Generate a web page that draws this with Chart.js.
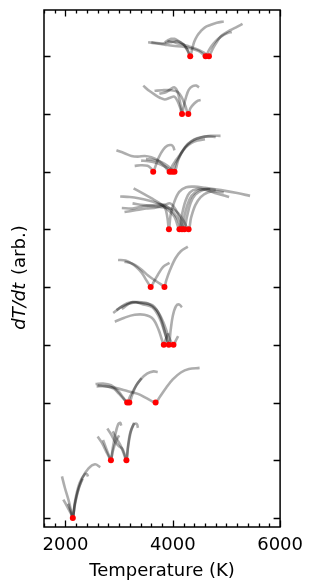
<!DOCTYPE html>
<html>
<head>
<meta charset="utf-8">
<script src="https://cdn.jsdelivr.net/npm/chart.js@4.4.0/dist/chart.umd.min.js"></script>
<style>
  html, body { margin: 0; padding: 0; background: #fff; }
  canvas { display: block; }
</style>
</head>
<body>
<canvas id="dtChart" width="311" height="584"></canvas>
<script>
// --- data ---
const tempTicks = [2000, 4000, 6000];
const levelTicks = [0, 1, 2, 3, 4, 5, 6, 7, 8];

// one trace per run: temperature (K) and dT/dt (arb., stacked by level)
const curveTemps = [
  // level 0
  [1935, 1990, 2060, 2110, 2137, 2170, 2230, 2320, 2430, 2550, 2650],
  [1960, 2030, 2100, 2137, 2180, 2260, 2350, 2400, 2420],
  [2050, 2110, 2137, 2170, 2240, 2320],
  // level 1
  [2600, 2680, 2760, 2820, 2847, 2880, 2930, 2980, 3020, 3040],
  [2780, 2850, 2920, 2990, 3060, 3110, 3136, 3160, 3200, 3270, 3330, 3350],
  [2700, 2760, 2820, 2847, 2880, 2950, 3000],
  [2880, 2950, 3030, 3100, 3136, 3170, 3220, 3280],
  // level 2
  [2560, 2700, 2850, 2980, 3080, 3150, 3200, 3290, 3400, 3520, 3640, 3720],
  [2580, 2750, 2950, 3150, 3350, 3500, 3600, 3680, 3760, 3880, 4000, 4150, 4300, 4500],
  [2600, 2780, 2900, 3000, 3100, 3190, 3240, 3320, 3420],
  // level 3
  [2920, 3100, 3290, 3470, 3630, 3740, 3800, 3833, 3870, 3920],
  [2890, 3050, 3260, 3450, 3630, 3760, 3860, 3926, 3960, 4000, 4060, 4120, 4170],
  [2950, 3150, 3350, 3550, 3700, 3820, 3920, 4013, 4060, 4100],
  [3050, 3250, 3450, 3620, 3760, 3870, 3926],
  // level 4
  [2980, 3120, 3230, 3330, 3420, 3500, 3560, 3588, 3640, 3720, 3820, 3940],
  [3100, 3200, 3300, 3420, 3540, 3660, 3760, 3820, 3845, 3880, 3950, 4050, 4150, 4280],
  // level 5
  [3270, 3450, 3600, 3760, 3910, 4030, 4124, 4170, 4240, 4320, 4450, 4620, 4820, 5050],
  [3020, 3200, 3360, 3550, 3720, 3850, 3900, 3928, 3960, 4030, 4120, 4250, 4400, 4600, 4900, 5200, 5440],
  [3050, 3250, 3450, 3650, 3820, 3950, 4080, 4172, 4210, 4270, 4350, 4480, 4650, 4800],
  [3100, 3300, 3500, 3700, 3850, 3950, 4050, 4150, 4216, 4260, 4330, 4420, 4560, 4700],
  [3250, 3450, 3650, 3850, 4000, 4100, 4200, 4295, 4340, 4420, 4520, 4650, 4800, 4950],
  // level 6
  [2950, 3100, 3230, 3350, 3480, 3600, 3720, 3840, 3941, 3990, 4060, 4124, 4200, 4280, 4400, 4520, 4650, 4800],
  [3290, 3400, 3530, 3600, 3635, 3680, 3740, 3820, 3900, 3970, 4010, 4030],
  [3410, 3550, 3700, 3820, 3920, 3988, 4060, 4150, 4240, 4350, 4460, 4600],
  [3500, 3650, 3800, 3930, 4032, 4100, 4180, 4280, 4400, 4550, 4700, 4890],
  // level 7
  [3450, 3560, 3670, 3760, 3850, 3950, 4030, 4090, 4140, 4172, 4200, 4250, 4300, 4370, 4440, 4490],
  [3660, 3800, 3970, 4090, 4160, 4230, 4289, 4330, 4400, 4470, 4520],
  [3750, 3880, 3960, 4032, 4090, 4140, 4172],
  // level 8
  [3540, 3700, 3850, 4000, 4220, 4460, 4540, 4612, 4660, 4720, 4800, 4900, 5020, 5100],
  [3850, 3920, 3970, 4030, 4093, 4160, 4216, 4280, 4325, 4360, 4400, 4460, 4520, 4600, 4700, 4820, 4950],
  [3900, 4000, 4100, 4200, 4300, 4400, 4500, 4580, 4674, 4720, 4770, 4830, 4890, 4980, 5070, 5180, 5300],
  [3600, 3800, 3950, 4093, 4200, 4260, 4325]
];

const curveRates = [
  [0.72, 0.52, 0.30, 0.10, 0.00, 0.20, 0.45, 0.70, 0.86, 0.93, 0.88],
  [0.32, 0.20, 0.08, 0.00, 0.30, 0.60, 0.75, 0.76, 0.72],
  [0.25, 0.08, 0.00, 0.22, 0.50, 0.68],
  [1.41, 1.30, 1.15, 1.04, 1.00, 1.20, 1.45, 1.62, 1.65, 1.60],
  [1.55, 1.45, 1.33, 1.25, 1.20, 1.08, 1.00, 1.20, 1.45, 1.62, 1.63, 1.56],
  [1.35, 1.20, 1.06, 1.00, 1.15, 1.35, 1.43],
  [1.50, 1.38, 1.25, 1.08, 1.00, 1.25, 1.50, 1.65],
  [2.32, 2.33, 2.30, 2.20, 2.08, 2.00, 2.10, 2.25, 2.40, 2.50, 2.54, 2.53],
  [2.28, 2.28, 2.25, 2.20, 2.15, 2.08, 2.03, 2.00, 2.10, 2.26, 2.40, 2.52, 2.58, 2.60],
  [2.30, 2.28, 2.24, 2.15, 2.05, 2.00, 2.12, 2.30, 2.42],
  [3.40, 3.47, 3.52, 3.52, 3.45, 3.25, 3.08, 3.00, 3.10, 3.20],
  [3.55, 3.66, 3.73, 3.72, 3.68, 3.50, 3.20, 3.00, 3.25, 3.50, 3.67, 3.70, 3.65],
  [3.60, 3.72, 3.74, 3.71, 3.60, 3.40, 3.15, 3.00, 3.08, 3.15],
  [3.62, 3.74, 3.70, 3.65, 3.45, 3.15, 3.00],
  [4.47, 4.46, 4.41, 4.34, 4.25, 4.13, 4.04, 4.00, 4.08, 4.21, 4.35, 4.42],
  [4.44, 4.42, 4.38, 4.30, 4.20, 4.12, 4.06, 4.02, 4.00, 4.12, 4.30, 4.50, 4.62, 4.70],
  [5.71, 5.62, 5.54, 5.45, 5.34, 5.22, 5.00, 5.25, 5.50, 5.64, 5.70, 5.68, 5.62, 5.56],
  [5.57, 5.56, 5.54, 5.50, 5.45, 5.38, 5.20, 5.00, 5.25, 5.48, 5.65, 5.73, 5.74, 5.72, 5.68, 5.63, 5.58],
  [5.37, 5.36, 5.40, 5.42, 5.43, 5.35, 5.20, 5.00, 5.20, 5.42, 5.58, 5.68, 5.70, 5.68],
  [5.30, 5.33, 5.36, 5.38, 5.42, 5.45, 5.35, 5.15, 5.00, 5.20, 5.45, 5.60, 5.68, 5.70],
  [5.45, 5.42, 5.40, 5.38, 5.35, 5.28, 5.15, 5.00, 5.20, 5.42, 5.56, 5.64, 5.66, 5.64],
  [6.37, 6.32, 6.27, 6.26, 6.27, 6.25, 6.20, 6.10, 6.00, 6.10, 6.20, 6.28, 6.38, 6.47, 6.55, 6.59, 6.61, 6.60],
  [6.10, 6.11, 6.10, 6.05, 6.00, 6.10, 6.25, 6.38, 6.45, 6.46, 6.43, 6.37],
  [6.19, 6.18, 6.15, 6.10, 6.05, 6.00, 6.15, 6.30, 6.42, 6.50, 6.54, 6.56],
  [6.22, 6.20, 6.16, 6.08, 6.00, 6.20, 6.36, 6.48, 6.56, 6.60, 6.62, 6.62],
  [7.49, 7.40, 7.33, 7.28, 7.25, 7.28, 7.30, 7.22, 7.10, 7.00, 7.12, 7.30, 7.42, 7.48, 7.49, 7.46],
  [7.40, 7.41, 7.41, 7.38, 7.30, 7.15, 7.00, 7.10, 7.18, 7.23, 7.24],
  [7.35, 7.38, 7.43, 7.46, 7.38, 7.18, 7.00],
  [8.24, 8.22, 8.20, 8.18, 8.16, 8.10, 8.05, 8.00, 8.08, 8.17, 8.26, 8.34, 8.40, 8.42],
  [8.24, 8.28, 8.30, 8.30, 8.27, 8.23, 8.19, 8.10, 8.00, 8.12, 8.25, 8.36, 8.43, 8.50, 8.54, 8.58, 8.60],
  [8.26, 8.25, 8.22, 8.20, 8.17, 8.14, 8.10, 8.06, 8.00, 8.08, 8.17, 8.26, 8.34, 8.40, 8.45, 8.50, 8.56],
  [8.24, 8.22, 8.24, 8.26, 8.20, 8.12, 8.00]
];

// minima of dT/dt (red markers)
const minTemps  = [2137, 2847, 3136, 3150, 3190, 3680, 3833, 3926, 4013, 3588, 3845,
                   3928, 4124, 4172, 4216, 4295, 3635, 3941, 3988, 4032, 4172, 4289, 4325, 4612, 4674];
const minLevels = [0, 1, 1, 2, 2, 2, 3, 3, 3, 4, 4,
                   5, 5, 5, 5, 5, 6, 6, 6, 6, 7, 7, 8, 8, 8];

// --- datasets ---
const datasets = [{
  data: minTemps.map((t, i) => ({ x: t, y: minLevels[i] })),
  showLine: false,
  pointRadius: 3,
  pointBackgroundColor: '#ff0000',
  pointBorderWidth: 0,
  order: 0
}];
curveTemps.forEach((temps, k) => {
  datasets.push({
    data: temps.map((t, i) => ({ x: t, y: curveRates[k][i] })),
    showLine: true,
    borderColor: 'rgba(0,0,0,0.32)',
    borderWidth: 2.6,
    pointRadius: 0,
    tension: 0.35,
    order: 1
  });
});

const FONT = '"DejaVu Sans", sans-serif';

// inward matplotlib-style ticks + frame + y label
const frameTicks = {
  id: 'frameTicks',
  afterDatasetsDraw(chart) {
    const { ctx, chartArea: a, scales: { x, y } } = chart;
    ctx.save();
    ctx.strokeStyle = '#000';
    ctx.lineWidth = 1.3;
    ctx.beginPath();
    for (let t = 1600; t <= 6000; t += 200) {
      const px = Math.round(x.getPixelForValue(t)) + 0.5;
      const len = tempTicks.includes(t) ? 6.5 : 3.6;
      ctx.moveTo(px, a.bottom); ctx.lineTo(px, a.bottom - len);
      ctx.moveTo(px, a.top); ctx.lineTo(px, a.top + len);
    }
    levelTicks.forEach(v => {
      const py = Math.round(y.getPixelForValue(v)) + 0.5;
      ctx.moveTo(a.left, py); ctx.lineTo(a.left + 6.5, py);
      ctx.moveTo(a.right, py); ctx.lineTo(a.right - 6.5, py);
    });
    ctx.stroke();
    ctx.lineWidth = 1.5;
    ctx.strokeRect(a.left, a.top, a.right - a.left, a.bottom - a.top);

    // y title: italic dT/dt + (arb.)
    const part1 = 'dT/dt', part2 = ' (arb.)';
    ctx.translate(20, (a.top + a.bottom) / 2 + 10);
    ctx.rotate(-Math.PI / 2);
    ctx.fillStyle = '#000';
    ctx.textBaseline = 'middle';
    ctx.font = 'italic 18px ' + FONT;
    const w1 = ctx.measureText(part1).width;
    ctx.font = '18px ' + FONT;
    const w2 = ctx.measureText(part2).width;
    let sx = -(w1 + w2) / 2;
    ctx.font = 'italic 18px ' + FONT;
    ctx.fillText(part1, sx, 0);
    ctx.font = '18px ' + FONT;
    ctx.fillText(part2, sx + w1 + 2, 0);
    ctx.restore();
  }
};

new Chart(document.getElementById('dtChart'), {
  type: 'scatter',
  data: { datasets },
  plugins: [frameTicks],
  options: {
    responsive: false,
    animation: false,
    layout: { padding: { top: 10, right: 25, left: 0, bottom: 0 } },
    plugins: { legend: { display: false }, tooltip: { enabled: false } },
    scales: {
      x: {
        type: 'linear',
        min: 1600,
        max: 6000,
        afterBuildTicks: s => { s.ticks = tempTicks.map(v => ({ value: v })); },
        afterFit: s => { s.height = 57; },
        grid: { display: false, drawTicks: false },
        border: { display: false },
        ticks: {
          color: '#000',
          font: { family: FONT, size: 18 },
          padding: 8,
          maxRotation: 0,
          autoSkip: false,
          callback: v => String(v)
        },
        title: {
          display: true,
          text: 'Temperature (K)',
          color: '#000',
          font: { family: FONT, size: 18 },
          padding: { top: 0, bottom: 2 }
        }
      },
      y: {
        type: 'linear',
        min: -0.156,
        max: 8.8,
        afterBuildTicks: s => { s.ticks = levelTicks.map(v => ({ value: v })); },
        afterFit: s => { s.width = 44; },
        grid: { display: false, drawTicks: false },
        border: { display: false },
        ticks: { display: false }
      }
    }
  }
});
</script>
</body>
</html>
